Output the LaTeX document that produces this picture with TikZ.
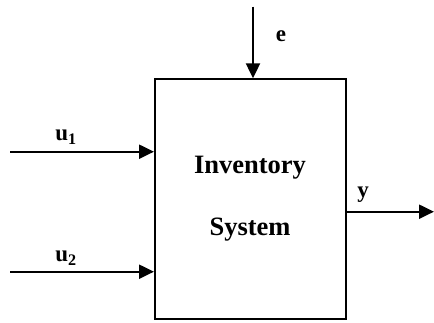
\documentclass[tikz,border=0pt]{standalone}
\usepackage{fontspec}
\setmainfont{Liberation Serif}
\usetikzlibrary{arrows.meta}
\begin{document}
\begin{tikzpicture}[x=1pt,y=-1pt,
  conn/.style={line width=2.2pt,-{Triangle[length=15pt,width=14pt]}},
  lbl/.style={font=\fontsize{23}{27}\selectfont\bfseries,inner sep=0pt},
  sysbox/.style={draw,line width=2pt,minimum width=191pt,minimum height=240pt,inner sep=0pt}]
\useasboundingbox (0,0) rectangle (434,322);
\node[sysbox] (box) at (250.5,199.3) {};
\node[font=\fontsize{26.5}{30}\selectfont\bfseries] (t1) at (250,168) {Inventory};
\node[font=\fontsize{26.5}{30}\selectfont\bfseries] (t2) at (250,230) {System};
\coordinate (etop) at (253,6.7);
\coordinate (u1s) at (10,151.7);
\coordinate (u2s) at (10,271.7);
\coordinate (yend) at (434,211.7);
\draw[conn] (etop) -- (etop |- box.north);
\draw[conn] (u1s) -- (u1s -| box.west);
\draw[conn] (u2s) -- (u2s -| box.west);
\draw[conn] (yend -| box.east) -- (yend);
\node[lbl] (le) at (281,36) {e};
\node[lbl] (lu1) at (66,137) {u\textsubscript{1}};
\node[lbl] (lu2) at (66,258) {u\textsubscript{2}};
\node[lbl] (ly) at (363,195) {y};
\end{tikzpicture}
\end{document}
